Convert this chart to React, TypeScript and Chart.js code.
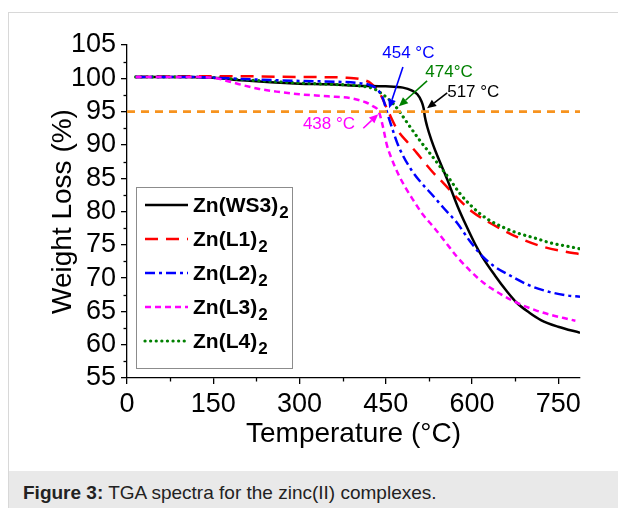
import React, { useEffect, useRef } from "react";
import { Chart, registerables } from "chart.js";
Chart.register(...registerables);

// ---- data ----
const tWS3 = [15, 100, 150, 200, 250, 300, 350, 400, 450, 480, 495, 505, 512, 516, 518, 522, 530, 536, 546, 558, 575, 591, 605, 618, 640, 660, 678, 700, 720, 750, 788];
const wWS3 = [100.2, 100.2, 100.1, 99.7, 99.4, 99.2, 99.1, 98.9, 98.8, 98.6, 98.2, 97.6, 96.6, 95.5, 94.3, 92.8, 90.6, 89.2, 87.1, 84.6, 80.8, 77.7, 75.2, 73.2, 70.4, 68.1, 66.3, 64.8, 63.7, 62.7, 61.8];

const tL1 = [15, 100, 200, 300, 380, 410, 425, 440, 454, 470, 490, 504, 520, 535, 550, 575, 600, 625, 650, 680, 720, 760, 788];
const wL1 = [100.2, 100.3, 100.3, 100.2, 100.1, 99.8, 99.2, 97.7, 95.1, 92.3, 90.2, 88.8, 87.1, 85.6, 84.3, 82.0, 80.0, 78.6, 77.4, 76.1, 74.8, 74.0, 73.6];

const tL2 = [15, 100, 150, 200, 300, 400, 425, 437, 445, 452, 462, 470, 480, 495, 510, 532, 550, 574, 596, 618, 640, 666, 700, 736, 765, 788];
const wL2 = [100.2, 100.2, 100.1, 99.9, 99.6, 99.3, 98.9, 98.2, 97.0, 95.0, 92.3, 90.3, 88.4, 86.2, 84.5, 82.4, 80.6, 78.3, 75.6, 73.3, 71.7, 70.4, 68.9, 67.9, 67.4, 67.2];

const tL3 = [15, 100, 150, 170, 200, 230, 260, 300, 350, 390, 415, 428, 438, 445, 452, 460, 472, 485, 498, 515, 533, 555, 574, 597, 620, 650, 678, 710, 736, 760, 780];
const wL3 = [100.2, 100.2, 100.1, 99.7, 99.0, 98.4, 98.0, 97.6, 97.3, 97.0, 96.4, 95.8, 95.0, 92.8, 90.0, 88.0, 85.6, 83.5, 81.7, 79.5, 77.7, 75.3, 73.2, 71.1, 69.3, 67.6, 66.3, 65.2, 64.5, 64.0, 63.6];

const tL4 = [15, 100, 150, 200, 300, 350, 400, 430, 446, 462, 474, 490, 510, 530, 545, 560, 580, 597, 615, 632, 655, 678, 710, 736, 765, 788];
const wL4 = [100.2, 100.2, 100.1, 99.8, 99.3, 99.1, 98.9, 98.4, 97.5, 96.3, 95.0, 93.0, 90.6, 88.4, 86.7, 85.0, 82.6, 81.0, 79.6, 78.6, 77.6, 76.8, 76.0, 75.3, 74.8, 74.4];

const seriesNames = ["Zn(WS3)", "Zn(L1)", "Zn(L2)", "Zn(L3)", "Zn(L4)"];
const seriesSub = ["2", "2", "2", "2", "2"];
const xTickValues = [0, 150, 300, 450, 600, 750];
const yTickValues = [55, 60, 65, 70, 75, 80, 85, 90, 95, 100, 105];
const thresholdWeight = 95;
const onsetLabels = ["517 °C", "454 °C", "438 °C", "474°C"];

// ---- styles ----
const X_MIN = 0;
const X_MAX = 788;
const FONT = "'Liberation Sans', Arial, sans-serif";
const COLORS = ["#000000", "#ff0000", "#0000ff", "#ff00ff", "#008000"];
const DASHES: number[][] = [[], [13, 8], [10, 4, 3, 4], [6, 4], [0.1, 5.5]];
const WIDTHS = [2.5, 2.5, 2.5, 2.5, 3.2];
const CAPS = ["butt", "butt", "butt", "butt", "round"];
const ORANGE = "#f7931e";

const pts = (t: number[], w: number[]) => t.map((v, i) => ({ x: v, y: w[i] }));

// annotation placement (data coordinates): text left/baseline, arrow start, arrow tip
const annotationLayout = [
  { label: 0, color: "#000000", text: [557, 97.2], from: [557, 97.8], to: [522, 95.5] },
  { label: 1, color: "#0000ff", text: [444, 103.0], from: [480, 101.7], to: [456, 95.5] },
  { label: 2, color: "#ff00ff", text: [306, 92.4], from: [411, 92.5], to: [437, 94.6] },
  { label: 3, color: "#008000", text: [519, 100.2], from: [522, 99.6], to: [473, 95.8] },
];

const annotationPlugin = {
  id: "annotations",
  afterDatasetsDraw(chart: any) {
    const { ctx, scales } = chart;
    const xs = scales.x, ys = scales.y;
    ctx.save();
    for (const a of annotationLayout) {
      const tx = xs.getPixelForValue(a.text[0]);
      const ty = ys.getPixelForValue(a.text[1]);
      ctx.fillStyle = a.color;
      ctx.font = `17px ${FONT}`;
      ctx.textAlign = "left";
      ctx.textBaseline = "alphabetic";
      ctx.fillText(onsetLabels[a.label], tx, ty);
      const x1 = xs.getPixelForValue(a.from[0]);
      const y1 = ys.getPixelForValue(a.from[1]);
      const x2 = xs.getPixelForValue(a.to[0]);
      const y2 = ys.getPixelForValue(a.to[1]);
      const ang = Math.atan2(y2 - y1, x2 - x1);
      const head = 9, hw = 4;
      const bx = x2 - head * Math.cos(ang), by = y2 - head * Math.sin(ang);
      ctx.strokeStyle = a.color;
      ctx.lineWidth = 1.6;
      ctx.setLineDash([]);
      ctx.beginPath();
      ctx.moveTo(x1, y1);
      ctx.lineTo(bx, by);
      ctx.stroke();
      ctx.beginPath();
      ctx.moveTo(x2, y2);
      ctx.lineTo(bx + hw * Math.sin(ang), by - hw * Math.cos(ang));
      ctx.lineTo(bx - hw * Math.sin(ang), by + hw * Math.cos(ang));
      ctx.closePath();
      ctx.fill();
    }
    ctx.restore();
  },
};

const minorTickPlugin = {
  id: "minorTicks",
  afterDraw(chart: any) {
    const { ctx, scales, chartArea } = chart;
    ctx.save();
    ctx.strokeStyle = "#000";
    ctx.lineWidth = 1.3;
    ctx.setLineDash([]);
    for (let i = 0; i < xTickValues.length; i++) {
      const v = xTickValues[i] + (xTickValues[1] - xTickValues[0]) / 2;
      if (v > X_MAX) continue;
      const px = Math.round(scales.x.getPixelForValue(v)) + 0.5;
      ctx.beginPath();
      ctx.moveTo(px, chartArea.bottom);
      ctx.lineTo(px, chartArea.bottom + 3.5);
      ctx.stroke();
    }
    for (let i = 0; i < yTickValues.length - 1; i++) {
      const v = (yTickValues[i] + yTickValues[i + 1]) / 2;
      const py = Math.round(scales.y.getPixelForValue(v)) + 0.5;
      ctx.beginPath();
      ctx.moveTo(chartArea.left, py);
      ctx.lineTo(chartArea.left - 3.5, py);
      ctx.stroke();
    }
    ctx.restore();
  },
};

const legendPlugin = {
  id: "boxLegend",
  afterDatasetsDraw(chart: any) {
    const { ctx, chartArea } = chart;
    const L = chartArea.left, T = chartArea.top;
    ctx.save();
    ctx.fillStyle = "#ffffff";
    ctx.fillRect(L + 9, T + 142, 156, 181);
    ctx.strokeStyle = "#8c8c8c";
    ctx.lineWidth = 1;
    ctx.setLineDash([]);
    ctx.strokeRect(L + 9.5, T + 142.5, 156, 181);
    for (let i = 0; i < seriesNames.length; i++) {
      const cy = T + 160 + i * 34;
      ctx.strokeStyle = COLORS[i];
      ctx.lineWidth = WIDTHS[i];
      ctx.lineCap = CAPS[i] as CanvasLineCap;
      ctx.setLineDash(DASHES[i]);
      ctx.beginPath();
      ctx.moveTo(L + 18, cy);
      ctx.lineTo(L + 61, cy);
      ctx.stroke();
      ctx.setLineDash([]);
      ctx.lineCap = "butt";
      ctx.fillStyle = "#000";
      ctx.textAlign = "left";
      ctx.textBaseline = "alphabetic";
      ctx.font = `bold 21px ${FONT}`;
      ctx.fillText(seriesNames[i], L + 66, cy + 7);
      const w = ctx.measureText(seriesNames[i]).width;
      ctx.font = `bold 17px ${FONT}`;
      ctx.fillText(seriesSub[i], L + 66 + w + 1, cy + 13);
    }
    ctx.restore();
  },
};

export default function App() {
  const ref = useRef<HTMLCanvasElement | null>(null);
  useEffect(() => {
    if (!ref.current) return;
    const series = [
      pts(tWS3, wWS3),
      pts(tL1, wL1),
      pts(tL2, wL2),
      pts(tL3, wL3),
      pts(tL4, wL4),
    ];
    const datasets: any[] = [
      {
        label: "95 %",
        data: [
          { x: X_MIN, y: thresholdWeight },
          { x: X_MAX, y: thresholdWeight },
        ],
        borderColor: ORANGE,
        borderDash: [8, 6],
        borderWidth: 2.6,
        pointRadius: 0,
        order: 0,
      },
    ];
    const drawOrder = [3, 4, 2, 1, 2];
    series.forEach((d, i) => {
      datasets.push({
        label: seriesNames[i] + seriesSub[i],
        data: d,
        borderColor: COLORS[i],
        borderDash: DASHES[i],
        borderWidth: WIDTHS[i],
        borderCapStyle: CAPS[i],
        pointRadius: 0,
        cubicInterpolationMode: "monotone",
        fill: false,
        order: drawOrder[i],
      });
    });
    const tickFont = { family: FONT, size: 27 };
    const chart = new Chart(ref.current, {
      type: "line",
      data: { datasets },
      plugins: [minorTickPlugin, legendPlugin, annotationPlugin],
      options: {
        animation: false,
        responsive: false,
        devicePixelRatio: 1,
        layout: { padding: { top: 32, right: 38, left: 0, bottom: 0 } },
        plugins: { legend: { display: false }, tooltip: { enabled: false } },
        scales: {
          x: {
            type: "linear",
            min: X_MIN,
            max: X_MAX,
            afterFit: (s: any) => {
              s.height = 93;
            },
            afterBuildTicks: (s: any) => {
              s.ticks = xTickValues.map((v) => ({ value: v }));
            },
            ticks: {
              font: tickFont,
              color: "#000",
              padding: 4,
              maxRotation: 0,
              autoSkip: false,
            },
            grid: { drawOnChartArea: false, tickLength: 6, color: "#000", lineWidth: 1.3 },
            border: { display: true, color: "#000", width: 1.3 },
            title: {
              display: true,
              text: "Temperature (°C)",
              font: { family: FONT, size: 28 },
              color: "#000",
              padding: { top: 0, bottom: 20 },
            },
          },
          y: {
            type: "linear",
            min: 55,
            max: 105,
            afterFit: (s: any) => {
              s.width = 118;
            },
            afterBuildTicks: (s: any) => {
              s.ticks = yTickValues.map((v) => ({ value: v }));
            },
            ticks: { font: tickFont, color: "#000", padding: 5, autoSkip: false },
            grid: { drawOnChartArea: false, tickLength: 6, color: "#000", lineWidth: 1.3 },
            border: { display: true, color: "#000", width: 1.3 },
            title: {
              display: true,
              text: "Weight Loss (%)",
              font: { family: FONT, size: 28 },
              color: "#000",
              padding: { top: 37, bottom: 0 },
            },
          },
        },
      } as any,
    });
    return () => chart.destroy();
  }, []);

  return (
    <div
      style={{
        position: "fixed",
        left: 8,
        top: 12,
        right: 0,
        bottom: 0,
        borderLeft: "1px solid #d8d8d8",
        borderTop: "1px solid #d8d8d8",
        background: "#ffffff",
        overflow: "hidden",
      }}
    >
      <canvas ref={ref} width={609} height={458} style={{ display: "block" }} />
      <div
        style={{
          background: "#e9e9e9",
          height: 40,
          boxSizing: "border-box",
          paddingTop: 12,
          paddingLeft: 14,
          fontFamily: FONT,
          fontSize: 19,
          lineHeight: "20px",
          color: "#222",
          whiteSpace: "nowrap",
        }}
      >
        <b>Figure 3:</b> TGA spectra for the zinc(II) complexes.
      </div>
    </div>
  );
}
